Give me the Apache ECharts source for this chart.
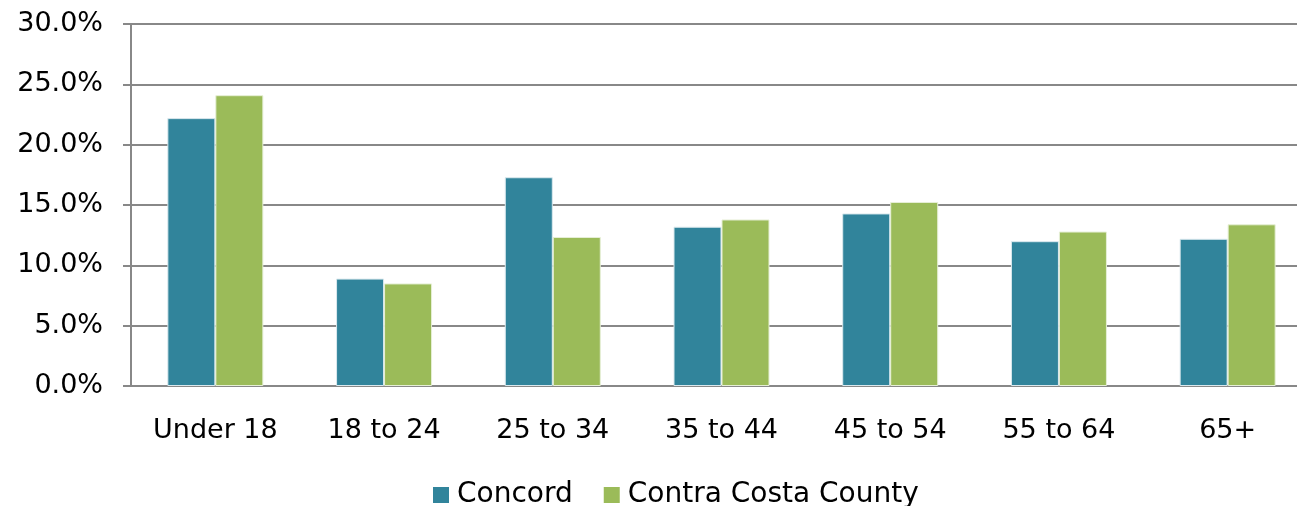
<!DOCTYPE html>
<html>
<head>
<meta charset="utf-8">
<script src="https://cdn.jsdelivr.net/npm/echarts@6/dist/echarts.min.js"></script>
<style>
  html, body { margin: 0; padding: 0; background: #fff; overflow: hidden; }
  #main { width: 1320px; height: 506px; }
</style>
</head>
<body>
<div id="main"></div>
<script>
var ageGroups = ['Under 18', '18 to 24', '25 to 34', '35 to 44', '45 to 54', '55 to 64', '65+'];
var concord = [22.2, 8.9, 17.3, 13.2, 14.3, 12.0, 12.2];
var contraCosta = [24.1, 8.5, 12.35, 13.8, 15.25, 12.8, 13.4];
var seriesNames = ['Concord', 'Contra Costa County'];

// the plot area runs past the right edge of the picture, so the chart is a bit wider than the window
var chart = echarts.init(document.getElementById('main'));
var font = '"DejaVu Sans", sans-serif';

var option = {
  backgroundColor: '#ffffff',
  animation: false,
  textStyle: { fontFamily: font },
  legend: {
    top: 476,
    left: 428,
    itemWidth: 16,
    itemHeight: 16,
    itemGap: 31,
    icon: 'rect',
    itemStyle: { borderWidth: 0 },
    textStyle: { fontSize: 28, color: '#000', fontFamily: font, padding: [0, 0, 0, 3] }
  },
  grid: { left: 131, top: 24, width: 1181, height: 362 },
  xAxis: {
    type: 'category',
    data: ageGroups,
    axisLine: { lineStyle: { color: '#888', width: 2 } },
    axisTick: { length: 8, lineStyle: { color: '#888', width: 2 } },
    axisLabel: { fontSize: 27, color: '#000', margin: 31, fontFamily: font }
  },
  yAxis: {
    type: 'value',
    min: 0,
    max: 30,
    interval: 5,
    axisLine: { show: true, lineStyle: { color: '#888', width: 2 } },
    axisTick: { show: true, inside: false, length: 8, lineStyle: { color: '#888', width: 2 } },
    splitLine: { lineStyle: { color: '#888', width: 2 } },
    axisLabel: {
      fontSize: 27, color: '#000', margin: 28, fontFamily: font,
      formatter: function (v) { return v.toFixed(1) + '%'; }
    }
  },
  series: [
    {
      name: seriesNames[0],
      type: 'bar',
      data: concord,
      barWidth: 48,
      barGap: '0%',
      itemStyle: { color: '#31849B', borderColor: '#dbe9ee', borderWidth: 1 }
    },
    {
      name: seriesNames[1],
      type: 'bar',
      data: contraCosta,
      barWidth: 48,
      barGap: '0%',
      itemStyle: { color: '#9BBB59', borderColor: '#e6efd6', borderWidth: 1 }
    }
  ]
};

chart.setOption(option);
</script>
</body>
</html>
